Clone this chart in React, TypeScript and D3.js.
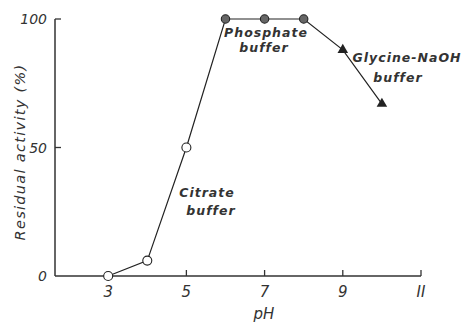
import React from 'react'
import * as d3 from 'd3'

// residual activity (%) after incubation at each pH
const citratePH = [3, 4, 5]
const citrateVals = [0, 6, 50]
const phosphatePH = [6, 7, 8]
const phosphateVals = [100, 100, 100]
const glycinePH = [9, 10]
const glycineVals = [88, 67]

const xTicks = [3, 5, 7, 9, 11]
const xTickLabels = ['3', '5', '7', '9', 'II']
const yTicks = [0, 50, 100]

const W = 461
const H = 323
const FONT = '"DejaVu Sans", sans-serif'

export default function App() {
  const x = d3.scaleLinear().domain([1.64, 11]).range([55, 421])
  const y = d3.scaleLinear().domain([0, 100]).range([276, 19])

  const allPH = [...citratePH, ...phosphatePH, ...glycinePH]
  const allVals = [...citrateVals, ...phosphateVals, ...glycineVals]
  const pts: [number, number][] = allPH.map((p, i) => [p, allVals[i]])

  const line = d3
    .line<[number, number]>()
    .x((d) => x(d[0]))
    .y((d) => y(d[1]))

  const tri = d3.symbol().type(d3.symbolTriangle).size(48)()

  return (
    <svg
      width={W}
      height={H}
      style={{ position: 'absolute', left: 0, top: 0, background: '#fff' }}
      fontFamily={FONT}
    >
      {/* axes */}
      <line x1={x(1.64)} x2={x(1.64)} y1={y(100)} y2={y(0)} stroke="#333" strokeWidth={1.5} />
      <line x1={x(1.64)} x2={x(11)} y1={y(0)} y2={y(0)} stroke="#333" strokeWidth={1.5} />
      {xTicks.slice(1).map((t) => (
        <line key={t} x1={x(t)} x2={x(t)} y1={y(0)} y2={y(0) - 6} stroke="#333" strokeWidth={1.3} />
      ))}
      {yTicks.slice(1).map((t) => (
        <line key={t} x1={x(1.64)} x2={x(1.64) + 6} y1={y(t)} y2={y(t)} stroke="#333" strokeWidth={1.3} />
      ))}
      {xTicks.map((t, i) => (
        <text key={t} x={x(t)} y={297} textAnchor="middle" fontSize={15} fontStyle="italic" fill="#333">
          {xTickLabels[i]}
        </text>
      ))}
      {yTicks.map((t) => (
        <text key={t} x={47} y={y(t) + 5} textAnchor="end" fontSize={14} fontStyle="italic" fill="#333">
          {t}
        </text>
      ))}
      <text x={264} y={319} textAnchor="middle" fontSize={15} fontStyle="italic" fill="#333">
        pH
      </text>
      <text
        transform={`translate(25,${152}) rotate(-90)`}
        textAnchor="middle"
        fontSize={14.5}
        fontStyle="italic"
        letterSpacing={1.3}
        fill="#333"
      >
        Residual  activity  (%)
      </text>

      {/* data line */}
      <path d={line(pts) ?? ''} fill="none" stroke="#222" strokeWidth={1.2} />

      {citratePH.map((p, i) => (
        <circle key={p} cx={x(p)} cy={y(citrateVals[i])} r={4.5} fill="#fff" stroke="#222" strokeWidth={1.1} />
      ))}
      {phosphatePH.map((p, i) => (
        <circle key={p} cx={x(p)} cy={y(phosphateVals[i])} r={4.2} fill="#666" stroke="#222" strokeWidth={1.1} />
      ))}
      {glycinePH.map((p, i) => (
        <path key={p} d={tri ?? ''} transform={`translate(${x(p)},${y(glycineVals[i])})`} fill="#222" />
      ))}

      {/* buffer labels */}
      <g fontSize={12.5} fontStyle="italic" fontWeight="bold" fill="#333" letterSpacing={1} textAnchor="middle">
        <text x={207} y={197}>Citrate</text>
        <text x={211} y={215}>buffer</text>
        <text x={266} y={37}>Phosphate</text>
        <text x={264} y={52}>buffer</text>
        <text x={407} y={62}>Glycine-NaOH</text>
        <text x={398} y={82}>buffer</text>
      </g>
    </svg>
  )
}
